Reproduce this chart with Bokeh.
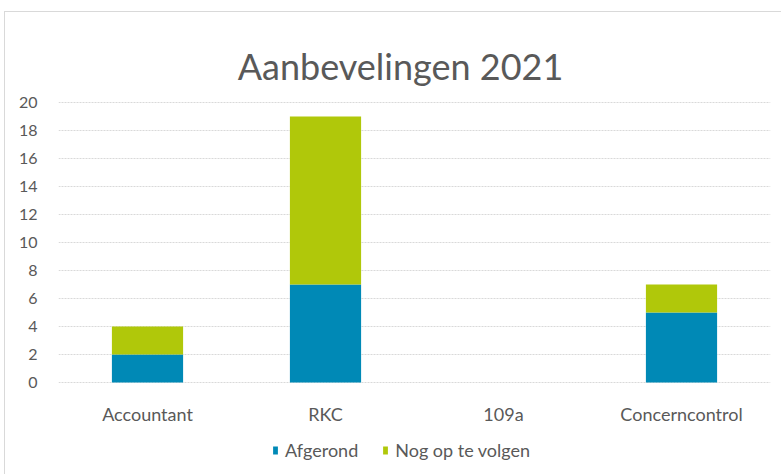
from bokeh.plotting import figure
from bokeh.models import ColumnDataSource, FactorRange, Range1d, FixedTicker, Legend, LegendItem
from bokeh.embed import file_html
from bokeh.resources import INLINE

title = "Aanbevelingen 2021"
categories = ["Accountant", "RKC", "109a", "Concerncontrol"]
afgerond = [2, 7, 0, 5]
nog_op_te_volgen = [2, 12, 0, 2]
series = ["Afgerond", "Nog op te volgen"]
colors = ["#0089B6", "#B0C80A"]
y_ticks = [0, 2, 4, 6, 8, 10, 12, 14, 16, 18, 20]

source = ColumnDataSource(dict(cat=categories, Afgerond=afgerond, Nog=nog_op_te_volgen))

FONT = "Lato"
TXT = "#595959"

W, H = 777, 463
B_LEFT, B_RIGHT, B_TOP, B_BOTTOM = 53, 12, 0, 5
frame_h = H - B_TOP - B_BOTTOM
frame_w = W - B_LEFT - B_RIGHT
px_per_unit = 280 / 20.0              # the 0..20 plot area is 280 px tall
y_end = 20 + 90 / px_per_unit         # 90 px of space above the 20 line
y_start = y_end - frame_h / px_per_unit
label_y = -31 / px_per_unit           # category labels' baseline below the 0 line
title_y = 20 + 37 / px_per_unit       # title baseline above the 20 line
title_x = 342 / (frame_w / 4.0)       # title centre, in category units from the left

p = figure(x_range=FactorRange(*categories, range_padding=0), y_range=Range1d(y_start, y_end),
           width=W, height=H, output_backend="svg", toolbar_location=None,
           min_border_left=B_LEFT, min_border_right=B_RIGHT,
           min_border_top=B_TOP, min_border_bottom=B_BOTTOM)
p.title = None

r = p.vbar_stack(["Afgerond", "Nog"], x="cat", width=0.40, color=colors, source=source,
                 line_color=None)

p.text(x="cat", y=label_y, text="cat", source=source, text_align="center",
       text_baseline="alphabetic", text_font_size="18px", text_color=TXT,
       text_font={"value": FONT})

p.text(x=[title_x], y=[title_y], text=[title], text_align="center",
       text_baseline="alphabetic", text_font_size="36px", text_color=TXT,
       text_font={"value": FONT})

p.outline_line_color = None
p.xgrid.grid_line_color = None
p.ygrid.grid_line_color = "#D9D9D9"
p.ygrid.grid_line_dash = "2 1"
p.ygrid.ticker = FixedTicker(ticks=y_ticks)

p.yaxis.ticker = FixedTicker(ticks=y_ticks)
p.yaxis.axis_line_color = None
p.yaxis.major_tick_line_color = None
p.yaxis.minor_tick_line_color = None
p.yaxis.major_label_standoff = 15
p.yaxis.major_label_text_font = FONT
p.yaxis.major_label_text_font_size = "16px"
p.yaxis.major_label_text_color = TXT

p.xaxis.visible = False

legend = Legend(items=[LegendItem(label=s, renderers=[rr]) for s, rr in zip(series, r)],
                orientation="horizontal", location=(214, 9), label_text_font=FONT,
                label_text_font_size="18px", label_text_color=TXT,
                glyph_width=6, glyph_height=10, label_height=20, border_line_color=None,
                spacing=24, label_standoff=7, margin=0, padding=0, background_fill_alpha=0)
p.add_layout(legend, "center")

p.styles = {"margin-left": "4px", "margin-top": "11px",
            "border-left": "1px solid #D9D9D9", "border-top": "1px solid #D9D9D9"}

open("out.html", "w").write(file_html(p, INLINE))
